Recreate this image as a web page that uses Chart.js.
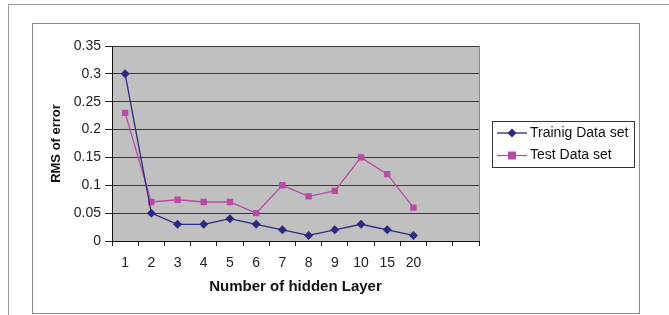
<!DOCTYPE html>
<html>
<head>
<meta charset="utf-8">
<title>RMS of error</title>
<script src="https://cdn.jsdelivr.net/npm/chart.js@4/dist/chart.umd.min.js"></script>
<style>
  body { margin: 0; background: #fff; }
  #wrap { position: relative; width: 669px; height: 315px; overflow: hidden; }
  #outer { position: absolute; left: 8px; top: 4px; width: 700px; height: 400px; border-top: 1px solid #9a9a9a; border-left: 1px solid #9a9a9a; }
  #frame { position: absolute; left: 32px; top: 23px; width: 606px; height: 289px; border: 1px solid #8a8a8a; }
  canvas { position: absolute; left: 0; top: 0; }
</style>
</head>
<body>
<div id="wrap">
  <div id="outer"></div>
  <div id="frame"></div>
  <canvas id="chart" width="669" height="315"></canvas>
</div>
<script>
// hidden layer counts (last two slots are empty on the axis)
var layers = ['1', '2', '3', '4', '5', '6', '7', '8', '9', '10', '15', '20', '', ''];
var trainRms = [0.3, 0.05, 0.03, 0.03, 0.04, 0.03, 0.02, 0.01, 0.02, 0.03, 0.02, 0.01];
var testRms = [0.23, 0.07, 0.074, 0.07, 0.07, 0.05, 0.1, 0.08, 0.09, 0.15, 0.12, 0.06];
var yTicks = [0, 0.05, 0.1, 0.15, 0.2, 0.25, 0.3, 0.35];

var navy = '#2b2a80';
var pink = '#b94ba6';

// grey plot area + right border
var plotBg = {
  id: 'plotBg',
  beforeDraw: function (chart) {
    var a = chart.chartArea, ctx = chart.ctx;
    ctx.save();
    ctx.fillStyle = '#c0c0c0';
    ctx.fillRect(a.left, a.top, a.right - a.left, a.bottom - a.top);
    ctx.strokeStyle = '#8a8a8a';
    ctx.lineWidth = 1;
    ctx.beginPath();
    ctx.moveTo(a.right + 0.5, a.top);
    ctx.lineTo(a.right + 0.5, a.bottom);
    ctx.stroke();
    ctx.restore();
  }
};

// legend box like the excel one
var sideLegend = {
  id: 'sideLegend',
  afterDraw: function (chart) {
    var ctx = chart.ctx;
    ctx.save();
    ctx.strokeStyle = '#333';
    ctx.lineWidth = 1;
    ctx.strokeRect(492.5, 121.5, 142, 46);
    ctx.font = '14px "Liberation Sans", Arial, sans-serif';
    ctx.textBaseline = 'middle';
    chart.data.datasets.forEach(function (ds, i) {
      var y = 133 + i * 22.5;
      ctx.strokeStyle = ds.borderColor;
      ctx.lineWidth = 1.3;
      ctx.beginPath();
      ctx.moveTo(497, y);
      ctx.lineTo(527, y);
      ctx.stroke();
      ctx.fillStyle = ds.backgroundColor;
      ctx.beginPath();
      if (ds.pointStyle === 'rect') {
        ctx.rect(508, y - 4, 8, 8);
      } else {
        ctx.moveTo(512, y - 4.5); ctx.lineTo(516.5, y); ctx.lineTo(512, y + 4.5); ctx.lineTo(507.5, y);
        ctx.closePath();
      }
      ctx.fill();
      ctx.fillStyle = '#111';
      ctx.fillText(ds.label, 530, y);
    });
    ctx.restore();
  }
};

new Chart(document.getElementById('chart'), {
  type: 'line',
  data: {
    labels: layers,
    datasets: [
      {
        label: 'Trainig Data set',
        data: trainRms,
        borderColor: navy,
        backgroundColor: navy,
        borderWidth: 1.3,
        pointStyle: 'rectRot',
        pointRadius: 4.5,
        pointBorderWidth: 0,
        tension: 0
      },
      {
        label: 'Test Data set',
        data: testRms,
        borderColor: pink,
        backgroundColor: pink,
        borderWidth: 1.3,
        pointStyle: 'rect',
        pointRadius: 4.5,
        pointBorderWidth: 0,
        tension: 0
      }
    ]
  },
  options: {
    responsive: false,
    animation: false,
    layout: { padding: { left: 45, right: 190, top: 46, bottom: 15 } },
    plugins: { legend: { display: false }, tooltip: { enabled: false } },
    scales: {
      x: {
        offset: true,
        grid: { offset: true, drawOnChartArea: false, drawTicks: true, tickLength: 5, tickColor: '#222' },
        border: { color: '#111', width: 1 },
        ticks: { color: '#222', padding: 9, maxRotation: 0, autoSkip: false, font: { family: '"Liberation Sans", Arial', size: 14 } },
        title: { display: true, text: 'Number of hidden Layer', color: '#111', font: { family: '"Liberation Sans", Arial', size: 15, weight: 'bold' }, padding: { top: 4, bottom: 4 } },
        afterFit: function (s) { s.height = 59; }
      },
      y: {
        min: 0,
        max: 0.35,
        afterBuildTicks: function (s) { s.ticks = yTicks.map(function (v) { return { value: v }; }); },
        grid: { color: '#3a3a3a', lineWidth: 1, tickLength: 7, tickColor: '#222' },
        border: { color: '#111', width: 1 },
        ticks: {
          color: '#222', padding: 4,
          font: { family: '"Liberation Sans", Arial', size: 14 },
          callback: function (v) { return String(+v.toFixed(2)); }
        },
        title: { display: true, text: 'RMS of error', color: '#111', font: { family: '"Liberation Sans", Arial', size: 13, weight: 'bold' }, padding: { top: 4, bottom: 4 } },
        afterFit: function (s) { s.width = 67; }
      }
    }
  },
  plugins: [plotBg, sideLegend]
});
</script>
</body>
</html>
